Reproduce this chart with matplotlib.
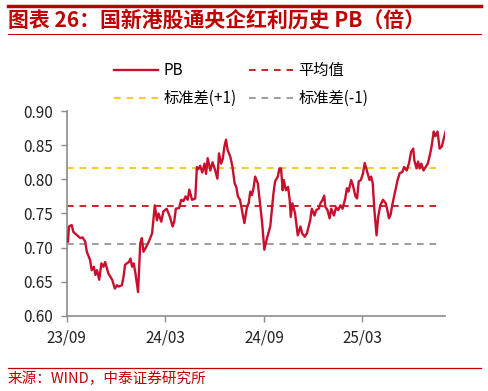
import numpy as np
import pandas as pd
import matplotlib
matplotlib.use("Agg")
import matplotlib.pyplot as plt
import matplotlib.dates as mdates
from matplotlib.lines import Line2D

plt.rcParams['font.family'] = ['Noto Sans CJK SC', 'DejaVu Sans']

# PB history
dates = [
    "2023-09-03", "2023-09-05", "2023-09-10", "2023-09-13", "2023-09-20", "2023-09-26", "2023-09-30",
    "2023-10-05", "2023-10-08", "2023-10-14", "2023-10-17", "2023-10-21", "2023-10-24", "2023-10-27",
    "2023-10-31", "2023-11-04", "2023-11-08", "2023-11-11", "2023-11-17", "2023-11-24", "2023-11-29",
    "2023-12-03", "2023-12-06", "2023-12-12", "2023-12-15", "2023-12-18", "2023-12-25", "2023-12-28",
    "2023-12-31", "2024-01-03", "2024-01-06", "2024-01-11", "2024-01-15", "2024-01-18", "2024-01-21",
    "2024-01-26", "2024-01-31", "2024-02-06", "2024-02-11", "2024-02-15", "2024-02-18", "2024-02-23",
    "2024-02-27", "2024-03-04", "2024-03-10", "2024-03-15", "2024-03-18", "2024-03-21", "2024-03-27",
    "2024-03-31", "2024-04-04", "2024-04-08", "2024-04-12", "2024-04-15", "2024-04-20", "2024-04-26",
    "2024-04-29", "2024-05-02", "2024-05-05", "2024-05-09", "2024-05-13", "2024-05-16", "2024-05-19",
    "2024-05-24", "2024-05-28", "2024-06-02", "2024-06-06", "2024-06-09", "2024-06-13", "2024-06-16",
    "2024-06-19", "2024-06-22", "2024-06-25", "2024-06-30", "2024-07-04", "2024-07-08", "2024-07-11",
    "2024-07-14", "2024-07-18", "2024-07-21", "2024-07-26", "2024-07-31", "2024-08-03", "2024-08-06",
    "2024-08-09", "2024-08-12", "2024-08-15", "2024-08-20", "2024-08-24", "2024-08-28", "2024-09-01",
    "2024-09-06", "2024-09-12", "2024-09-15", "2024-09-18", "2024-09-21", "2024-09-26", "2024-09-29",
    "2024-10-02", "2024-10-05", "2024-10-07", "2024-10-11", "2024-10-15", "2024-10-18", "2024-10-20",
    "2024-10-23", "2024-10-28", "2024-11-02", "2024-11-07", "2024-11-10", "2024-11-15", "2024-11-19",
    "2024-11-25", "2024-11-28", "2024-12-03", "2024-12-06", "2024-12-11", "2024-12-14", "2024-12-18",
    "2024-12-21", "2024-12-23", "2024-12-27", "2024-12-31", "2025-01-03", "2025-01-08", "2025-01-12",
    "2025-01-16", "2025-01-20", "2025-01-24", "2025-01-29", "2025-02-01", "2025-02-04", "2025-02-09",
    "2025-02-12", "2025-02-17", "2025-02-20", "2025-02-23", "2025-02-27", "2025-03-03", "2025-03-06",
    "2025-03-09", "2025-03-12", "2025-03-15", "2025-03-18", "2025-03-21", "2025-03-24", "2025-03-28",
    "2025-03-31", "2025-04-04", "2025-04-09", "2025-04-14", "2025-04-17", "2025-04-20", "2025-04-23",
    "2025-04-26", "2025-04-30", "2025-05-04", "2025-05-06", "2025-05-10", "2025-05-15", "2025-05-18",
    "2025-05-23", "2025-05-27", "2025-05-31", "2025-06-04", "2025-06-06", "2025-06-10", "2025-06-13",
    "2025-06-16", "2025-06-19", "2025-06-23", "2025-06-27", "2025-07-01", "2025-07-05", "2025-07-08",
    "2025-07-12", "2025-07-15", "2025-07-19", "2025-07-23", "2025-07-27", "2025-07-30", "2025-08-03",
]
pb = [
    0.709, 0.731, 0.733, 0.723, 0.718, 0.714, 0.715,
    0.709, 0.694, 0.682, 0.667, 0.672, 0.660, 0.667,
    0.653, 0.677, 0.672, 0.679, 0.662, 0.653, 0.640,
    0.645, 0.643, 0.645, 0.657, 0.675, 0.679, 0.684,
    0.672, 0.677, 0.663, 0.635, 0.706, 0.714, 0.694,
    0.701, 0.709, 0.721, 0.762, 0.740, 0.750, 0.738,
    0.753, 0.757, 0.745, 0.731, 0.738, 0.757, 0.758,
    0.770, 0.768, 0.775, 0.770, 0.785, 0.770, 0.772,
    0.818, 0.815, 0.820, 0.810, 0.823, 0.808, 0.831,
    0.813, 0.825, 0.813, 0.801, 0.838, 0.823, 0.830,
    0.848, 0.858, 0.843, 0.833, 0.818, 0.794, 0.789,
    0.775, 0.770, 0.757, 0.736, 0.760, 0.765, 0.782,
    0.777, 0.787, 0.804, 0.794, 0.765, 0.736, 0.697,
    0.714, 0.731, 0.755, 0.780, 0.797, 0.804, 0.816,
    0.816, 0.784, 0.799, 0.784, 0.789, 0.770, 0.745,
    0.765, 0.750, 0.718, 0.731, 0.721, 0.716, 0.721,
    0.740, 0.757, 0.747, 0.755, 0.757, 0.765, 0.770,
    0.776, 0.760, 0.755, 0.743, 0.757, 0.747, 0.759,
    0.755, 0.762, 0.757, 0.772, 0.787, 0.782, 0.799,
    0.792, 0.775, 0.772, 0.797, 0.799, 0.809, 0.824,
    0.816, 0.807, 0.799, 0.804, 0.794, 0.755, 0.718,
    0.745, 0.762, 0.770, 0.765, 0.755, 0.743, 0.748,
    0.762, 0.777, 0.792, 0.799, 0.809, 0.811, 0.818,
    0.813, 0.823, 0.840, 0.845, 0.828, 0.816, 0.826,
    0.816, 0.823, 0.813, 0.818, 0.823, 0.836, 0.848,
    0.870, 0.863, 0.870, 0.845, 0.848, 0.858, 0.870,
]
pb_mean = 0.761
pb_up = 0.817
pb_down = 0.705
line_end = "2025-07-23"

xticks = ["2023-09-01", "2024-03-01", "2024-09-01", "2025-03-01"]
xtick_labels = ["23/09", "24/03", "24/09", "25/03"]
yticks = [0.60, 0.65, 0.70, 0.75, 0.80, 0.85, 0.90]

red = "#C00000"
dt = pd.to_datetime(dates)
x0 = pd.Timestamp("2023-09-01")
x1 = pd.Timestamp("2025-08-02")

fig = plt.figure(figsize=(4.88, 3.91), dpi=100)
ax = fig.add_axes([0.137, 0.192, 0.775, 0.524])

ax.plot(dt, pb, color="#C8102E", lw=1.7, label="PB", zorder=3)
ax.hlines(pb_mean, x0, pd.Timestamp(line_end), colors=red, linestyles=(0, (4, 3.5)), lw=1.2, label="平均值")
ax.hlines(pb_up, x0, pd.Timestamp(line_end), colors="#F2C300", linestyles=(0, (4, 3.5)), lw=1.2, label="标准差(+1)")
ax.hlines(pb_down, x0, pd.Timestamp(line_end), colors="#8C8C8C", linestyles=(0, (4, 3.5)), lw=1.2, label="标准差(-1)")

ax.set_xlim(x0, x1)
ax.set_ylim(0.60, 0.90)
ax.set_yticks(yticks)
ax.set_yticklabels([f"{v:.2f}" for v in yticks])
ax.set_xticks(pd.to_datetime(xticks))
ax.set_xticklabels(xtick_labels)
for s in ["top", "right"]:
    ax.spines[s].set_visible(False)
for s in ["left", "bottom"]:
    ax.spines[s].set_color("#8C8C8C")
    ax.spines[s].set_linewidth(1.2)
ax.tick_params(axis="both", colors="#8C8C8C", labelcolor="#222222", labelsize=11, length=4, width=1)
ax.tick_params(axis="y", pad=6)
ax.tick_params(axis="x", pad=6)

h, l = ax.get_legend_handles_labels()
order = [0, 2, 1, 3]
fig.legend([h[i] for i in order], [l[i] for i in order], ncol=2, frameon=False,
           loc="upper left", bbox_to_anchor=(0.205, 0.876), fontsize=11,
           handlelength=2.9, columnspacing=0.8, handletextpad=0.35, labelspacing=0.7)

# title block
fig.add_artist(Line2D([0.016, 0.986], [0.985, 0.985], color=red, lw=2.5))
fig.add_artist(Line2D([0.016, 0.986], [0.912, 0.912], color=red, lw=0.8))
fig.text(0.016, 0.948, "图表 26：国新港股通央企红利历史 PB（倍）", color=red,
         fontsize=15, fontweight="bold", va="center", ha="left")
fig.add_artist(Line2D([0.016, 0.986], [0.058, 0.058], color=red, lw=0.9))
fig.text(0.016, 0.030, "来源：WIND，中泰证券研究所", color=red, fontsize=10.5, va="center", ha="left")

fig.savefig("out.png", dpi=100)
